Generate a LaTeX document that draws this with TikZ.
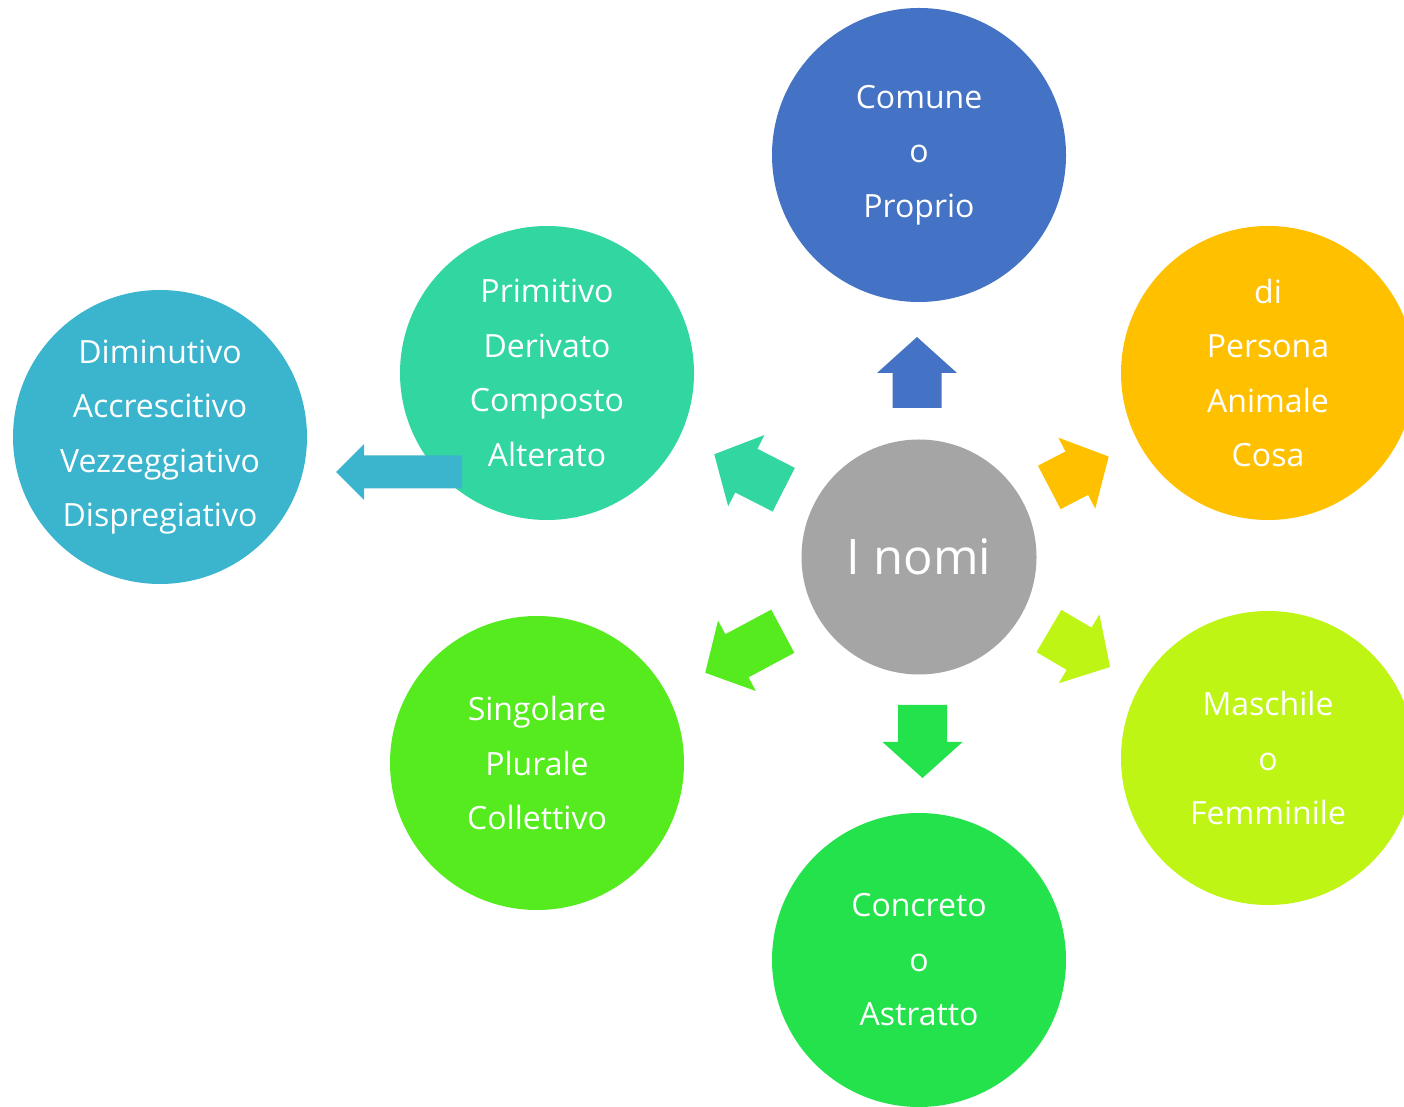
\documentclass[tikz,border=0pt]{standalone}
\usepackage{fontspec}
\setmainfont{Open Sans}
\usetikzlibrary{calc}
\definecolor{grigio}{HTML}{A5A5A5}
\definecolor{blu}{HTML}{4472C4}
\definecolor{arancio}{HTML}{FFC000}
\definecolor{verdelime}{HTML}{BEF514}
\definecolor{verdescuro}{HTML}{24E24B}
\definecolor{verdechiaro}{HTML}{55EB1E}
\definecolor{turchese}{HTML}{31D6A0}
\definecolor{ciano}{HTML}{3BB5CE}
\tikzset{bubble/.style={circle, inner sep=0pt, minimum size=294pt, text=white, align=center, font=\fontsize{32}{54.5}\selectfont}}
% block arrow: [colour](centre)(angle:length:half shaft:half head:head length)
\def\blockarrow[#1](#2)(#3:#4:#5:#6:#7){%
	\begin{scope}[shift={(#2)}, rotate=#3]
		\fill[#1] (-#4/2, -#5) -- ({#4/2-#7}, -#5) -- ({#4/2-#7}, -#6) -- (#4/2, 0) -- ({#4/2-#7}, #6) -- ({#4/2-#7}, #5) -- (-#4/2, #5) -- cycle;
	\end{scope}}

\begin{document}
\begin{tikzpicture}[x=1pt, y=1pt]
			%%%%% START %%%%%
			\useasboundingbox (0, 0) rectangle (1404, 1106);
			\clip (0, 0) rectangle (1404, 1106);
			
			\node[bubble, fill=grigio, minimum size=235pt, font=\fontsize{49}{55}\selectfont] (nomi) at (919, 549) {I nomi};
			
			\node[bubble, fill=blu] (comune) at (919, 951) {Comune\\o\\Proprio};
			\node[bubble, fill=arancio] (persona) at (1268, 733) {di\\Persona\\Animale\\Cosa};
			\node[bubble, fill=verdelime] (genere) at (1268, 348) {Maschile\\o\\Femminile};
			\node[bubble, fill=verdescuro] (concreto) at (919, 146) {Concreto\\o\\Astratto};
			\node[bubble, fill=verdechiaro] (numero) at (537, 343) {Singolare\\Plurale\\Collettivo};
			\node[bubble, fill=turchese] (forma) at (547, 733) {Primitivo\\Derivato\\Composto\\Alterato};
			\node[bubble, fill=ciano] (alterato) at (160, 669) {Diminutivo\\Accrescitivo\\Vezzeggiativo\\Dispregiativo};
			
			\blockarrow[blu](917, 733.5)(90:71:24.5:40:36);
			\blockarrow[verdescuro](922.5, 364.5)(-90:73:24.5:40:36);
			\blockarrow[turchese](749, 634)(153:78:24.5:40:36);
			\blockarrow[arancio](1079, 634)(27.5:67:24.5:40:36);
			\blockarrow[verdelime](1079.5, 457)(-30.5:71:24.5:40:36);
			\blockarrow[verdechiaro](744, 454)(208.2:88:24.5:40:36);
			\blockarrow[ciano](399, 634)(180:126:16.5:28:28);
			
			%%%%% END %%%%%
\end{tikzpicture}
\end{document}
